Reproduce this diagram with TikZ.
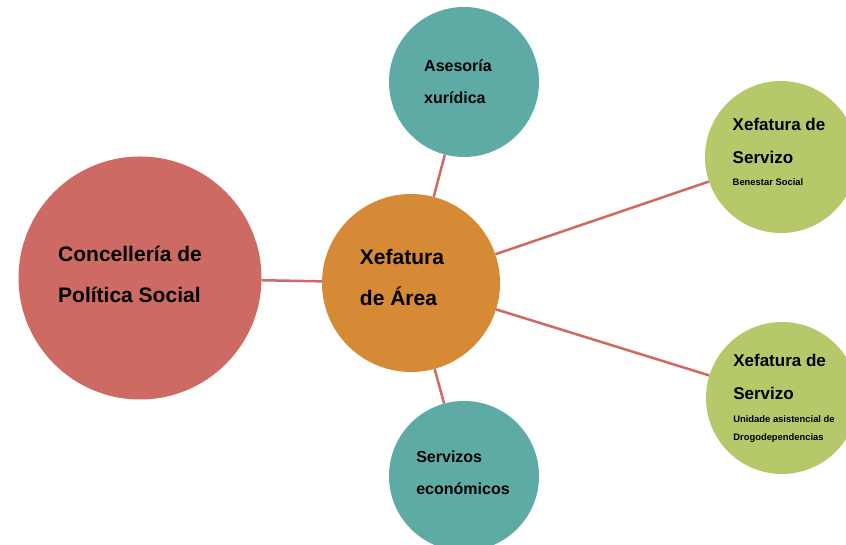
\documentclass[tikz,border=0pt]{standalone}
\usepackage{fontspec}
\setmainfont{Liberation Sans}
\usepackage{xcolor}
\definecolor{rosado}{HTML}{CC6A63}
\definecolor{laranxa}{HTML}{D68A35}
\definecolor{turquesa}{HTML}{5EABA6}
\definecolor{oliva}{HTML}{B5C96A}
\newcommand{\pequeno}[1]{{\fontsize{9.4}{11}\selectfont #1}}

\begin{document}
\begin{tikzpicture}[x=1pt, y=1pt,
  burbulla/.style={circle, inner sep=0pt},
  principal/.style={burbulla, fill=rosado, minimum size=243pt},
  area/.style={burbulla, fill=laranxa, minimum size=178pt},
  apoio/.style={burbulla, fill=turquesa, minimum size=150pt},
  servizo/.style={burbulla, fill=oliva, minimum size=152pt},
  texto/.style={inner sep=0pt, align=left, text=black},
  grande/.style={texto, font=\bfseries\fontsize{21}{41}\selectfont},
  medio/.style={texto, font=\bfseries\fontsize{16}{32}\selectfont},
  servtexto/.style={texto, font=\bfseries\fontsize{17}{33}\selectfont},
  enlace/.style={draw=rosado, line width=2.5pt}]
  \useasboundingbox (0,0) rectangle (846,545);
  \clip (0,0) rectangle (846,545);
  % burbullas
  \node[principal] (conc) at (140,267) {};
  \node[area] (area) at (411,262) {};
  \node[apoio] (xuridica) at (464,463) {};
  \node[apoio] (economicos) at (464,69) {};
  \node[servizo] (benestar) at (781,388) {};
  \node[servizo] (drogas) at (782,147) {};
  % enlaces
  \draw[enlace] (conc) -- (area);
  \draw[enlace] (area) -- (xuridica);
  \draw[enlace] (area) -- (economicos);
  \draw[enlace] (area) -- (benestar);
  \draw[enlace] (area) -- (drogas);
  % textos
  \node[grande] (concT) at ([shift={(-10,4)}]conc.center) {Concellería de\\ Política Social};
  \node[grande] (areaT) at ([shift={(-9,5)}]area.center) {Xefatura\\ de Área};
  \node[medio] (xuridicaT) at ([shift={(-6,0)}]xuridica.center) {Asesoría\\ xurídica};
  \node[medio] (economicosT) at ([shift={(-1,3)}]economicos.center) {Servizos\\ económicos};
  \node[servtexto] (benestarT) at ([shift={(-2,5)}]benestar.center) {Xefatura de\\ Servizo\\[-11pt] \pequeno{Benestar Social}};
  \node[servtexto] (drogasT) at ([shift={(2,0)}]drogas.center) {Xefatura de\\ Servizo\\[-10pt] \pequeno{Unidade asistencial de}\\[-15pt] \pequeno{Drogodependencias}};
\end{tikzpicture}
\end{document}
